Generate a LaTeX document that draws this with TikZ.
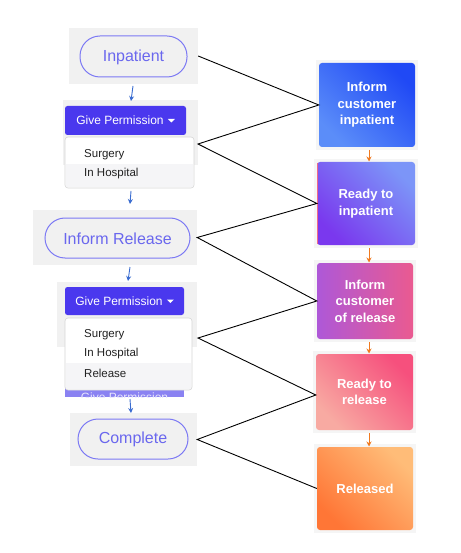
\documentclass[tikz,border=0pt]{standalone}
\usepackage{fontspec}
\setmainfont{Liberation Sans}
\usetikzlibrary{arrows.meta,calc}
\definecolor{panelgrey}{HTML}{F1F1F1}
\definecolor{shadowgrey}{HTML}{F5F5F5}
\definecolor{pillborder}{HTML}{7C79F4}
\definecolor{pilltext}{HTML}{6A67EE}
\definecolor{btnblue}{HTML}{4A38EE}
\definecolor{btnlight}{HTML}{8A82F2}
\definecolor{ddborder}{HTML}{D6D6D6}
\definecolor{ddhigh}{HTML}{F5F5F7}
\definecolor{arrblue}{HTML}{3A6CD0}
\definecolor{arrorange}{HTML}{F07A20}
\definecolor{itemtext}{HTML}{222222}
\definecolor{bA1}{HTML}{5B8DF9}\definecolor{bA2}{HTML}{2049F5}
\definecolor{bB1}{HTML}{7A38EE}\definecolor{bB2}{HTML}{7C95F8}
\definecolor{bC1}{HTML}{AE58D8}\definecolor{bC2}{HTML}{EA5A90}
\definecolor{bD1}{HTML}{F8AAA2}\definecolor{bD2}{HTML}{F6507D}
\definecolor{bE1}{HTML}{FF7636}\definecolor{bE2}{HTML}{FFBC78}
\definecolor{pinkedge}{HTML}{F06A8A}
\begin{document}
\begin{tikzpicture}[x=1pt,y=-1pt,
  panel/.style={fill=panelgrey,draw=none},
  pill/.style={draw=pillborder,line width=1pt,rounded corners=20pt,fill=panelgrey},
  pilllabel/.style={text=pilltext,font=\fontsize{16}{18}\selectfont,inner sep=0pt},
  btn/.style={fill=btnblue,rounded corners=2.5pt},
  btnlabel/.style={text=white,font=\fontsize{12}{14}\selectfont,inner sep=0pt},
  dd/.style={fill=white,draw=ddborder,line width=0.6pt,rounded corners=3pt},
  item/.style={text=itemtext,font=\fontsize{11.5}{13}\selectfont,inner sep=0pt,anchor=west},
  stepbox/.style={inner sep=0pt,minimum width=96pt,rounded corners=3pt},
  boxlabel/.style={text=white,font=\bfseries\fontsize{13}{16.5}\selectfont,align=center,inner sep=0pt},
  bluearrow/.style={draw=arrblue,line width=0.9pt,-{Stealth[length=5pt,width=5pt]}},
  orangearrow/.style={draw=arrorange,line width=0.9pt,-{Stealth[length=5pt,width=5pt]}},
  link/.style={draw=black,line width=0.9pt}
]
\useasboundingbox (0,0) rectangle (460,553);
\fill[white] (0,0) rectangle (460,553);

% ---------- left column ----------
% Inpatient
\node[panel,minimum width=129pt,minimum height=56pt] (p1) at (133.5,56) {};
\draw[pill] (80,36) rectangle (187,77);
\node[pilllabel] (inp) at (133.5,57) {Inpatient};

% Give permission 1
\node[panel,minimum width=135pt,minimum height=65pt] (p2) at (130.5,132.5) {};
\fill[btn] (65,106) rectangle (186,135);
\node[btnlabel] (g1) at (120,120.5) {Give Permission};
\fill[white] ($(g1.east)+(4,-1.5)$) -- ++(7,0) -- ++(-3.5,3.5) -- cycle;
\draw[dd] (65,137) rectangle (194,188);
\fill[ddhigh] (65.6,164) rectangle (193.4,187.4);
\node[item] (s1) at (84,155) {Surgery};
\node[item] (h1) at (84,174) {In Hospital};
\coordinate (j2) at (198,144);

% Inform Release
\node[panel,minimum width=164pt,minimum height=55pt] (p3) at (115,237.5) {};
\draw[pill] (45,218) rectangle (190,258);
\node[pilllabel] (infrel) at (117.5,238.5) {Inform Release};

% Give permission 2
\node[panel,minimum width=140pt,minimum height=65pt] (p4) at (127,314.5) {};
\fill[btn] (65,287) rectangle (184,315);
\node[btnlabel] (g2) at (119,301) {Give Permission};
\fill[white] ($(g2.east)+(4,-1.5)$) -- ++(7,0) -- ++(-3.5,3.5) -- cycle;
\begin{scope}
  \clip (65,374) rectangle (184,397);
  \fill[btnlight] (65,374) rectangle (184,397);
  \node[btnlabel,text=white!80!btnlight] (g3) at (124.5,397.5) {Give Permission};
\end{scope}
\draw[dd] (65,318) rectangle (192,390);
\fill[ddhigh] (65.6,363) rectangle (191.4,389.4);
\node[item] (s2) at (84,335) {Surgery};
\node[item] (h2) at (84,354) {In Hospital};
\node[item] (r2) at (84,373) {Release};
\coordinate (j4) at (198,338);

% Complete
\node[panel,minimum width=127pt,minimum height=53pt] (p5) at (133.5,439.5) {};
\draw[pill] (78,419) rectangle (188,459);
\node[pilllabel] (compl) at (133,439.5) {Complete};

% blue arrows
\coordinate (a1s) at (133,86);  \coordinate (a1e) at (131,101);
\coordinate (a2s) at (131,191); \coordinate (a2e) at (130,204);
\coordinate (a3s) at (130,267); \coordinate (a3e) at (128,281);
\coordinate (a4s) at (130,399); \coordinate (a4e) at (131,413);
\draw[bluearrow] (a1s) -- (a1e);
\draw[bluearrow] (a2s) -- (a2e);
\draw[bluearrow] (a3s) -- (a3e);
\draw[bluearrow] (a4s) -- (a4e);

% ---------- right column ----------
\fill[shadowgrey] (316,60) rectangle (418,150);
\node[stepbox,minimum height=84pt,bottom color=bA1,top color=bA2,shading angle=-45] (b1) at (367,105) {};
\fill[shadowgrey] (314,159) rectangle (418,248);
\node[stepbox,minimum width=98pt,minimum height=83pt,bottom color=bB1,top color=bB2,shading angle=-45] (b2) at (366,203.5) {};
\fill[pinkedge] (316.5,163) rectangle (318,244);
\fill[shadowgrey] (314,260) rectangle (416,342);
\node[stepbox,minimum height=76pt,left color=bC1,right color=bC2] (b3) at (365,301) {};
\fill[shadowgrey] (313,351) rectangle (416,433);
\node[stepbox,minimum width=97pt,minimum height=76pt,bottom color=bD1,top color=bD2,shading angle=-45] (b4) at (364.5,392) {};
\fill[shadowgrey] (314,444) rectangle (416,533);
\node[stepbox,minimum height=83pt,bottom color=bE1,top color=bE2,shading angle=-45] (b5) at (365,488.5) {};

\node[boxlabel] at (b1) {Inform\\customer\\inpatient};
\node[boxlabel] at (b2) {Ready to\\inpatient};
\node[boxlabel] at (b3) {Inform\\customer\\of release};
\node[boxlabel] at (b4) {Ready to\\release};
\node[boxlabel] at (b5) {Released};

% orange arrows
\draw[orangearrow] (369,150) -- (369,161.5);
\draw[orangearrow] (369,248) -- (369,262.5);
\draw[orangearrow] (369,342) -- (369,353.5);
\draw[orangearrow] (369,433) -- (369,446.5);

% ---------- zigzag connectors ----------
\draw[link] (p1.east) -- (b1.west) -- (j2) -- (b2.west) -- (p3.east) -- (b3.west) -- (j4) -- ($(b4.west)+(0,3)$) -- (p5.east) -- (b5.west);
\end{tikzpicture}
\end{document}
